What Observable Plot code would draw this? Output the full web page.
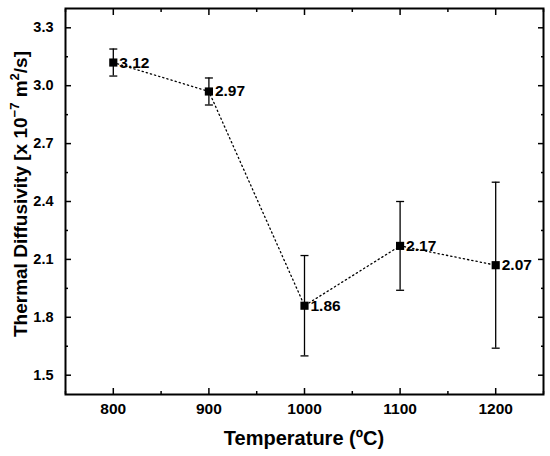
<!DOCTYPE html>
<html><head><meta charset="utf-8">
<script src="https://cdn.jsdelivr.net/npm/d3@7"></script>
<script src="https://cdn.jsdelivr.net/npm/@observablehq/plot@0.6"></script>
<style>body{margin:0;background:#fff;font-family:"Liberation Sans",Arial,sans-serif}</style>
</head><body><div id="chart"></div>
<script>
const temperatures = [800, 900, 1000, 1100, 1200];
const diffusivity = [3.12, 2.97, 1.86, 2.17, 2.07];
const errLow = [3.05, 2.90, 1.60, 1.94, 1.64];
const errHigh = [3.19, 3.04, 2.12, 2.40, 2.50];
const valueLabels = ["3.12", "2.97", "1.86", "2.17", "2.07"];
const xTicks = [800, 900, 1000, 1100, 1200];
const xMinorTicks = [750, 850, 950, 1050, 1150, 1250];
const yTicks = [1.5, 1.8, 2.1, 2.4, 2.7, 3.0, 3.3];
const yMinorTicks = [1.65, 1.95, 2.25, 2.55, 2.85, 3.15];
const xDomain = [750, 1250];
const yDomain = [1.4, 3.4];

const data = temperatures.map((t, i) => ({t, v: diffusivity[i], lo: errLow[i], hi: errHigh[i], label: valueLabels[i]}));

const capSymbol = {
  draw(context, size) {
    const w = 4;
    context.moveTo(-w, 0);
    context.lineTo(w, 0);
  }
};

const font = "Liberation Sans, Arial, sans-serif";
const tickStyle = {stroke: "black", strokeWidth: 1.5, fill: "none", label: null};
const labelStyle = {fill: "black", fontWeight: "bold", tickSize: 0, label: null, fontFamily: font};

const chart = Plot.plot({
  width: 550,
  height: 456,
  marginLeft: 65,
  marginRight: 7,
  marginTop: 8,
  marginBottom: 62,
  style: {fontFamily: font, background: "white", color: "black"},
  x: {domain: xDomain},
  y: {domain: yDomain},
  marks: [
    // inward major/minor ticks on all four sides
    Plot.axisX(xTicks, {...tickStyle, anchor: "bottom", tickSize: -6}),
    Plot.axisX(xMinorTicks, {...tickStyle, anchor: "bottom", tickSize: -3}),
    Plot.axisX(xTicks, {...tickStyle, anchor: "top", tickSize: -6}),
    Plot.axisX(xMinorTicks, {...tickStyle, anchor: "top", tickSize: -3}),
    Plot.axisY(yTicks, {...tickStyle, anchor: "left", tickSize: -6}),
    Plot.axisY(yMinorTicks, {...tickStyle, anchor: "left", tickSize: -3}),
    Plot.axisY(yTicks, {...tickStyle, anchor: "right", tickSize: -6}),
    Plot.axisY(yMinorTicks, {...tickStyle, anchor: "right", tickSize: -3}),
    // tick labels
    Plot.axisX(xTicks, {...labelStyle, fontSize: 15.5, anchor: "bottom", tickPadding: 8, tickFormat: d => String(d)}),
    Plot.axisY(yTicks, {...labelStyle, fontSize: 14.5, anchor: "left", tickPadding: 12, tickFormat: d => d.toFixed(1)}),
    Plot.frame({stroke: "black", strokeWidth: 2}),
    // dotted connecting line
    Plot.line(data, {x: "t", y: "v", stroke: "black", strokeWidth: 1.3, strokeDasharray: "1.3,3"}),
    // error bars
    Plot.ruleX(data, {x: "t", y1: "lo", y2: "hi", stroke: "black", strokeWidth: 1.3}),
    Plot.dot(data, {x: "t", y: "lo", symbol: capSymbol, stroke: "black", strokeWidth: 1.3, r: 4}),
    Plot.dot(data, {x: "t", y: "hi", symbol: capSymbol, stroke: "black", strokeWidth: 1.3, r: 4}),
    // markers
    Plot.dot(data, {x: "t", y: "v", symbol: "square", fill: "black", stroke: "none", r: 4.6}),
    // value labels
    Plot.text(data, {x: "t", y: "v", text: "label", dx: 6, textAnchor: "start", fill: "black", fontSize: 15.5, fontWeight: "bold"})
  ]
});

const svg = d3.select(chart);
// x-axis title
svg.append("text")
  .attr("x", 304).attr("y", 445)
  .attr("text-anchor", "middle")
  .attr("font-family", font).attr("font-size", 20).attr("font-weight", "bold").attr("fill", "black")
  .text("Temperature (ºC)");
// y-axis title with superscripts
const yt = svg.append("text")
  .attr("transform", "translate(27,194) rotate(-90)")
  .attr("text-anchor", "middle")
  .attr("font-family", font).attr("font-size", 19).attr("font-weight", "bold").attr("fill", "black");
yt.append("tspan").text("Thermal Diffusivity [x 10");
yt.append("tspan").attr("dy", -8).attr("font-size", 13).text("−7");
yt.append("tspan").attr("dy", 8).text(" m");
yt.append("tspan").attr("dy", -8).attr("font-size", 13).text("2");
yt.append("tspan").attr("dy", 8).text("/s]");

document.getElementById("chart").appendChild(chart);
</script>
</body></html>
